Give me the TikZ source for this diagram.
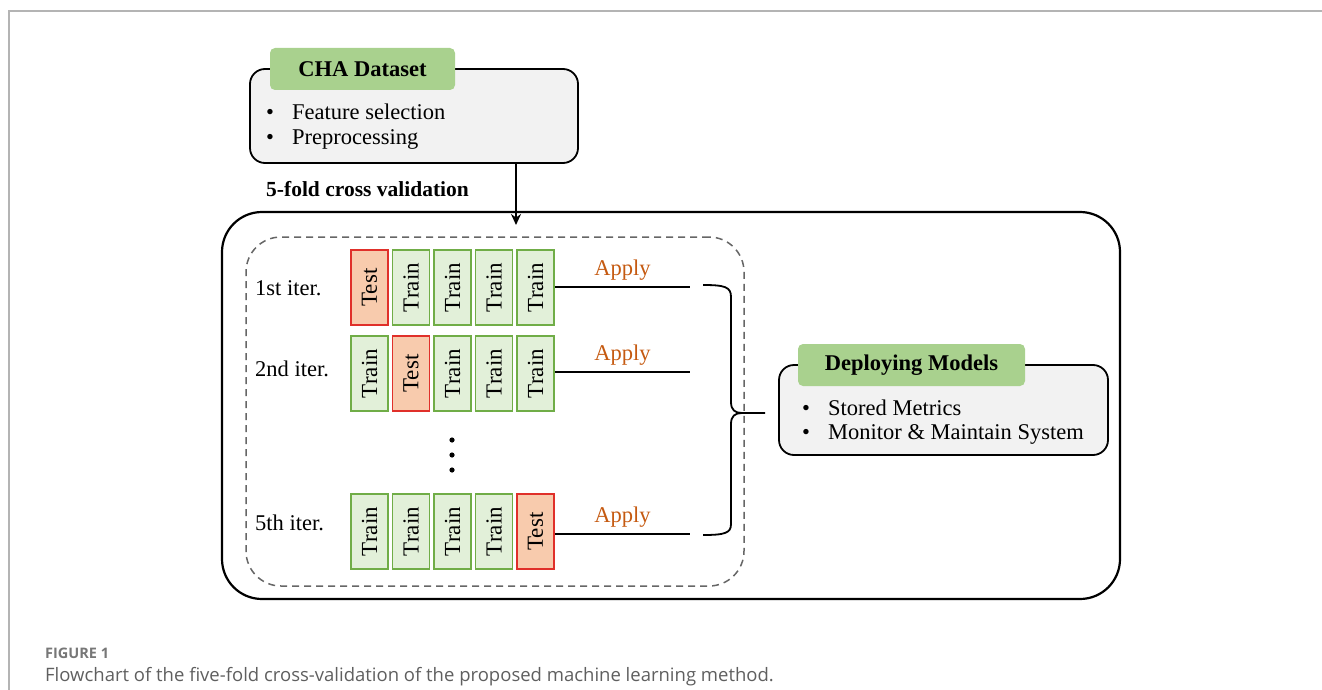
\documentclass[tikz,border=0pt]{standalone}
\usepackage{fontspec}
\setmainfont{Liberation Serif}
\newfontfamily\capfont{Open Sans}
\usetikzlibrary{arrows.meta}
\definecolor{headgreen}{HTML}{A9D18E}
\definecolor{boxgray}{HTML}{F2F2F2}
\definecolor{trainfill}{HTML}{E2F0D9}
\definecolor{trainedge}{HTML}{70AD47}
\definecolor{testfill}{HTML}{F8CBAD}
\definecolor{testedge}{HTML}{E0302A}
\definecolor{applycol}{HTML}{C55A11}
\definecolor{framegray}{HTML}{B4B4B4}
\definecolor{capgray}{HTML}{5F5F5F}
\tikzset{
  txt/.style={font=\fontsize{22.5}{26}\selectfont, inner sep=0pt},
  graybox/.style={draw=black, line width=1.8pt, fill=boxgray, rounded corners=15pt},
  greenhead/.style={fill=headgreen, rounded corners=5pt, inner sep=0pt,
     font=\fontsize{22.5}{26}\selectfont\bfseries},
  cellbase/.style={minimum width=37pt, minimum height=75pt, inner sep=0pt, line width=1.5pt,
     font=\fontsize{23}{26}\selectfont},
  traincell/.style={cellbase, draw=trainedge, fill=trainfill},
  testcell/.style={cellbase, draw=testedge, fill=testfill},
  conn/.style={draw=black, line width=1.8pt},
  applylbl/.style={txt, text=applycol, above=6pt},
}
\newcommand{\bul}[1]{\makebox[26pt][l]{\textbullet}#1}
\begin{document}
\begin{tikzpicture}[x=1pt,y=-1pt]
\useasboundingbox (0,0) rectangle (1322,690);
% outer frame
\draw[framegray, line width=1.5pt] (9,690) -- (9,11) -- (1322,11);

% CHA dataset box
\node[graybox, minimum width=328pt, minimum height=94pt] (cha) at (414,116) {};
\node[greenhead, minimum width=185pt, minimum height=42pt] (chahead) at (362.5,69) {CHA Dataset};
\node[txt, anchor=west] (fs) at (266,112) {\bul{Feature selection}};
\node[txt, anchor=west] (pp) at (266,139) {\bul{Preprocessing}};
\node[txt, anchor=west, font=\fontsize{21.5}{25}\selectfont\bfseries] (fold) at (266,189) {5-fold cross validation};

% big container and dashed box
\node[draw=black, line width=2.2pt, rounded corners=40pt, minimum width=898pt, minimum height=387pt, inner sep=0pt] (big) at (671,405.5) {};
\node[draw=black!60, dashed, dash pattern=on 7pt off 5pt, line width=1.5pt, rounded corners=35pt, minimum width=498pt, minimum height=349pt, inner sep=0pt] (dash) at (495,411.5) {};

% arrow
\coordinate (arrEnd) at (516,225);
\draw[conn, -{Stealth[length=11pt,width=10pt]}] (cha.south -| arrEnd) -- (arrEnd);

% iteration labels
\node[txt, anchor=west] (l1) at (255,288) {1st iter.};
\node[txt, anchor=west] (l2) at (255,369) {2nd iter.};
\node[txt, anchor=west] (l5) at (255,523) {5th iter.};

% row 1
\node[testcell]  (a1) at (369.5,287.5) {\rotatebox{90}{Test}};
\node[traincell] (a2) at (411,287.5)   {\rotatebox{90}{Train}};
\node[traincell] (a3) at (452.5,287.5) {\rotatebox{90}{Train}};
\node[traincell] (a4) at (494,287.5)   {\rotatebox{90}{Train}};
\node[traincell] (a5) at (535.5,287.5) {\rotatebox{90}{Train}};
% row 2
\node[traincell] (b1) at (369.5,373.5) {\rotatebox{90}{Train}};
\node[testcell]  (b2) at (411,373.5)   {\rotatebox{90}{Test}};
\node[traincell] (b3) at (452.5,373.5) {\rotatebox{90}{Train}};
\node[traincell] (b4) at (494,373.5)   {\rotatebox{90}{Train}};
\node[traincell] (b5) at (535.5,373.5) {\rotatebox{90}{Train}};
% row 5
\node[traincell] (e1) at (369.5,531.5) {\rotatebox{90}{Train}};
\node[traincell] (e2) at (411,531.5)   {\rotatebox{90}{Train}};
\node[traincell] (e3) at (452.5,531.5) {\rotatebox{90}{Train}};
\node[traincell] (e4) at (494,531.5)   {\rotatebox{90}{Train}};
\node[testcell]  (e5) at (535.5,531.5) {\rotatebox{90}{Test}};

% vertical dots
\foreach \yy in {440,455,470}
  \fill (452,\yy) circle (2.6pt);

% apply lines
\coordinate (t1) at (690,287);
\coordinate (t2) at (690,372);
\coordinate (t5) at (690,534);
\draw[conn] (a5.east |- t1) -- node[applylbl] {Apply} (t1);
\draw[conn] (b5.east |- t2) -- node[applylbl] {Apply} (t2);
\draw[conn] (e5.east |- t5) -- node[applylbl] {Apply} (t5);

% deploying box
\node[graybox, minimum width=329pt, minimum height=90pt] (dep) at (943.5,410) {};
\node[greenhead, minimum width=227pt, minimum height=42pt] (dephead) at (911.5,365) {Deploying Models};
\node[txt, anchor=west] (sm) at (802,408) {\bul{Stored Metrics}};
\node[txt, anchor=west] (mm) at (802,434) {\bul{Monitor \& Maintain System}};

% brace
\coordinate (bTop) at (703,285);
\coordinate (bBot) at (703,535);
\coordinate (bTip) at (765,413);
\draw[conn]
  (bTop) .. controls (725,285) and (731,287) .. (731,297) -- (731,402)
  .. controls (731,410) and (735,413) .. (742,413) -- (bTip);
\draw[conn]
  (742,413) .. controls (735,413) and (731,416) .. (731,424) -- (731,524)
  .. controls (731,533) and (725,535) .. (bBot);

% caption
\node[anchor=base west, inner sep=0pt, text=capgray!85, font=\capfont\fontsize{14.5}{17}\selectfont\bfseries] (fig) at (45,658) {FIGURE 1};
\node[anchor=base west, inner sep=0pt, text=capgray, font=\capfont\fontsize{18.5}{22}\selectfont] (cap) at (45,681) {Flowchart of the five-fold cross-validation of the proposed machine learning method.};
\end{tikzpicture}
\end{document}
